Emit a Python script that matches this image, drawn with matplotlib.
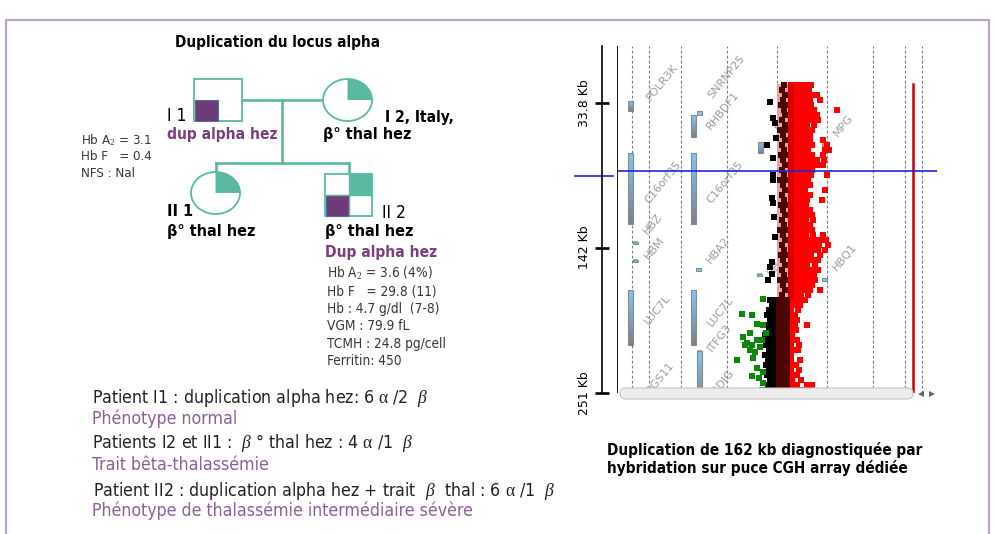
import numpy as np
import matplotlib
matplotlib.use("Agg")
import matplotlib.pyplot as plt
from matplotlib import font_manager as fm
from matplotlib.patches import Rectangle, Ellipse, Polygon, FancyBboxPatch

# ---------------------------------------------------------------- data
# CGH array profile, chr16p13.3 (position in kb, log2 ratio)
dup_start_kb, dup_end_kb = 19.0, 181.0          # 162 kb duplication call
cursor_kb = 84.5
kb_ticks = [33.8, 142, 251]
kb_tick_labels = ["33.8 Kb", "142 Kb", "251 Kb"]
grid_lr = [-2.9, -2.56, -1.92, -1.0, 0.0, 1.0, 1.92, 2.56, 2.9]
call_marker_lr = 2.72

# gained probes (red): rows of (kb, [log2 ratios])
gain_rows = [
    (20.0, [0.28, 0.38, 0.48, 0.58, 0.68]),
    (23.75, [0.28, 0.38, 0.48, 0.56, 0.64]),
    (27.5, [0.28, 0.38, 0.48, 0.58, 0.68, 0.80]),
    (31.25, [0.28, 0.38, 0.48, 0.58, 0.66, 0.86]),
    (35.0, [0.28, 0.38, 0.48, 0.58, 0.68]),
    (38.75, [0.28, 0.38, 0.48, 0.58, 0.68, 0.74, 1.20]),
    (42.5, [0.28, 0.38, 0.48, 0.58, 0.68, 0.80]),
    (46.25, [0.28, 0.38, 0.48, 0.60, 0.70, 0.82]),
    (50.0, [0.28, 0.38, 0.50, 0.60, 0.74]),
    (53.75, [0.28, 0.38, 0.48, 0.58, 0.70]),
    (57.5, [0.28, 0.38, 0.48, 0.56, 0.66]),
    (61.25, [0.28, 0.38, 0.48, 0.60, 0.66, 0.92]),
    (65.0, [0.28, 0.38, 0.50, 0.62, 0.70, 1.00]),
    (68.75, [0.28, 0.40, 0.52, 0.62, 0.96, 1.04]),
    (72.5, [0.28, 0.38, 0.48, 0.58, 0.70, 0.92]),
    (76.25, [0.28, 0.38, 0.48, 0.58, 0.68, 0.80, 0.94]),
    (80.0, [0.28, 0.38, 0.50, 0.60, 0.72, 0.84, 0.92]),
    (83.75, [0.28, 0.38, 0.48, 0.58, 0.70]),
    (87.5, [0.28, 0.38, 0.48, 0.58, 0.68, 1.00]),
    (91.25, [0.28, 0.38, 0.50, 0.62]),
    (95.0, [0.28, 0.38, 0.48, 0.56, 0.66]),
    (98.75, [0.28, 0.38, 0.50, 0.56, 0.96]),
    (102.5, [0.28, 0.38, 0.48, 0.58, 0.66]),
    (106.25, [0.28, 0.38, 0.48, 0.60, 0.90]),
    (110.0, [0.28, 0.38, 0.48, 0.58]),
    (113.75, [0.28, 0.38, 0.48, 0.58, 0.66]),
    (117.5, [0.28, 0.38, 0.50, 0.60, 0.70]),
    (121.25, [0.28, 0.38, 0.48, 0.58, 0.72]),
    (125.0, [0.28, 0.38, 0.48, 0.60, 0.66]),
    (128.75, [0.28, 0.40, 0.52, 0.62, 0.70]),
    (132.5, [0.28, 0.38, 0.48, 0.58, 0.72, 0.92]),
    (136.25, [0.28, 0.38, 0.50, 0.62, 0.74, 0.86, 0.98]),
    (140.0, [0.28, 0.38, 0.48, 0.60, 0.72, 0.84, 1.02]),
    (143.75, [0.28, 0.38, 0.48, 0.58, 0.70, 0.82, 0.96]),
    (147.5, [0.28, 0.38, 0.48, 0.58, 0.68, 0.86]),
    (151.25, [0.28, 0.38, 0.50, 0.62, 0.72, 0.82]),
    (155.0, [0.28, 0.38, 0.48, 0.60, 0.76]),
    (158.75, [0.28, 0.38, 0.48, 0.58, 0.70, 0.82]),
    (162.5, [0.28, 0.38, 0.50, 0.62, 0.74]),
    (166.25, [0.28, 0.38, 0.48, 0.58, 0.68, 0.76]),
    (170.0, [0.28, 0.38, 0.48, 0.60, 0.70]),
    (173.75, [0.28, 0.38, 0.50, 0.60, 0.66, 0.86]),
    (177.5, [0.28, 0.38, 0.48, 0.62]),
    (181.25, [0.28, 0.38, 0.48, 0.56]),
    (185.0, [0.28, 0.38, 0.46]),
    (188.75, [0.28, 0.42]),
    (192.5, [0.28, 0.36]),
    (196.25, [0.28, 0.40]),
    (200.0, [0.28, 0.36, 0.60]),
    (203.75, [0.28, 0.38]),
    (207.5, [0.30]),
    (211.25, [0.28, 0.40]),
    (215.0, [0.28, 0.44]),
    (218.75, [0.30, 0.42]),
    (222.5, [0.28]),
    (226.25, [0.28, 0.46]),
    (230.0, [0.30, 0.38]),
    (233.75, [0.28, 0.44]),
    (237.5, [0.28, 0.40]),
    (241.25, [0.30, 0.48]),
    (245.0, [0.28, 0.40, 0.60, 0.70]),
    (248.75, [0.28, 0.38, 0.52]),
]

# reference-channel probes (dark red)
ref_rows = [
    (20.0, [0.14]), (23.75, [0.10]), (27.5, [0.16]), (31.25, [0.12]),
    (35.0, [0.08, 0.16]), (38.75, [0.14]), (42.5, [0.16]), (46.25, [0.10]),
    (50.0, [0.16]), (53.75, [0.06, 0.16]), (57.5, [0.12]), (61.25, [0.16]),
    (65.0, [0.10]), (68.75, [0.14]), (72.5, [0.08, 0.16]), (76.25, [0.12]),
    (80.0, [0.16]), (83.75, [0.10]), (87.5, [0.14]), (91.25, [0.06, 0.16]),
    (95.0, [0.12]), (98.75, [0.16]), (102.5, [0.10]), (106.25, [0.14]),
    (110.0, [0.08, 0.16]), (113.75, [0.12]), (117.5, [0.16]), (121.25, [0.10]),
    (125.0, [0.14]), (128.75, [0.06, 0.16]), (132.5, [0.12]), (136.25, [0.16]),
    (140.0, [0.10]), (143.75, [0.14]), (147.5, [0.08, 0.16]), (151.25, [0.12]),
    (155.0, [0.16]), (158.75, [0.10]), (162.5, [0.14]), (166.25, [0.06, 0.16]),
    (170.0, [0.12]), (173.75, [0.16]), (177.5, [0.10]),
    (181.25, [0.04, 0.12, 0.19]), (185.0, [0.04, 0.12, 0.19]), (188.75, [0.04, 0.12, 0.19]),
    (192.5, [0.04, 0.12, 0.19]), (196.25, [0.04, 0.12, 0.19]), (200.0, [0.04, 0.12, 0.19]),
    (203.75, [0.04, 0.12, 0.19]), (207.5, [0.04, 0.12, 0.19]), (211.25, [0.04, 0.12, 0.19]),
    (215.0, [0.04, 0.12, 0.19]), (218.75, [0.04, 0.12, 0.19]), (222.5, [0.04, 0.12, 0.19]),
    (226.25, [0.04, 0.12, 0.19]), (230.0, [0.04, 0.12, 0.19]), (233.75, [0.04, 0.12, 0.19]),
    (237.5, [0.04, 0.12, 0.19]), (241.25, [0.04, 0.12, 0.19]), (245.0, [0.04, 0.12, 0.19]),
    (248.75, [0.04, 0.12, 0.19]),
]

# normal probes (black)
normal_kb = [32.75, 44.75, 48.5, 59.75, 65.0, 74.75, 87.5, 91.25, 104.75, 108.5,
             119.0, 134.0, 152.75, 156.5, 161.75, 166.25]
normal_lr = [-0.14, -0.08, -0.04, -0.02, -0.20, -0.08, -0.08, -0.08, -0.10, -0.08,
             -0.06, -0.04, -0.10, -0.14, -0.10, -0.18]
normal_rows = [
    (181.25, [-0.14, -0.06, 0.0]), (185.0, [-0.10, -0.02]), (188.75, [-0.16, -0.06]),
    (192.5, [-0.20, -0.10, -0.02]), (196.25, [-0.14, -0.04]), (200.0, [-0.22, -0.12, -0.04]),
    (203.75, [-0.16, -0.06]), (207.5, [-0.24, -0.14, -0.04]), (211.25, [-0.18, -0.08]),
    (215.0, [-0.22, -0.12, -0.02]), (218.75, [-0.16, -0.06]), (222.5, [-0.24, -0.12, -0.04]),
    (226.25, [-0.18, -0.08]), (230.0, [-0.22, -0.12, -0.02]), (233.75, [-0.16, -0.06]),
    (237.5, [-0.20, -0.10, -0.02]), (241.25, [-0.14, -0.04]), (245.0, [-0.18, -0.08]),
    (248.75, [-0.12, -0.04]),
]

# lost probes (green)
loss_kb = [180.5, 191.75, 192.5, 199.25, 200.0, 206.0, 206.0, 209.0, 211.25, 211.25,
           213.5, 215.0, 215.0, 216.5, 218.75, 220.25, 224.75, 226.25, 232.25, 235.25,
           238.25, 239.75, 243.5, 248.75]
loss_lr = [-0.28, -0.70, -0.50, -0.40, -0.28, -0.22, -0.54, -0.68, -0.40, -0.30,
           -0.60, -0.50, -0.64, -0.34, -0.54, -0.44, -0.48, -0.80, -0.40, -0.28,
           -0.50, -0.36, -0.28, -0.30]

# gene tracks: bar position (log2-ratio column), start and end (kb)
gene_bar_lr = [-2.93, -2.93, -2.93, -2.84, -2.84,
               -1.67, -1.67, -1.67, -1.56, -1.56, -1.58,
               -0.33, -0.36, 0.94, 0.94]
gene_bar_start = [32.0, 71.0, 173.75, 137.4, 150.9,
                  42.5, 71.0, 173.75, 39.5, 219.5, 157.6,
                  62.75, 161.4, 62.75, 165.1]
gene_bar_end = [39.5, 124.25, 215.0, 139.6, 153.1,
                59.0, 124.25, 215.0, 42.5, 262.0, 159.8,
                71.0, 163.6, 71.0, 167.3]
gene_bar_width = [0.10] * 15

gene_names = ["POLR3K", "SNRNP25", "RHBDF1", "C16orf35", "C16orf35", "HBZ", "HBM",
              "HBA2", "LUC7L", "LUC7L", "ITFG3", "RGS11", "ARHGDIG",
              "MPG", "MPG", "HBQ1", "HBQ1"]
gene_name_lr = [-2.30, -1.02, -1.08, -2.28, -1.04, -2.48, -2.44,
                -1.18, -2.38, -1.12, -1.14, -2.34, -1.22,
                0.16, 1.32, 0.06, 1.36]
gene_name_kb = [17.75, 14.0, 38.75, 92.75, 92.75, 124.25, 142.25,
                143.75, 188.75, 190.25, 209.75, 239.75, 250.25,
                46.25, 50.0, 152.75, 149.0]

# pedigree annotations
i1_values = ["Hb A$_2$ = 3.1", "Hb F   = 0.4", "NFS : Nal"]
ii2_values = ["Hb A$_2$ = 3.6 (4%)", "Hb F   = 29.8 (11)", "Hb : 4.7 g/dl  (7-8)",
              "VGM : 79.9 fL", "TCMH : 24.8 pg/cell", "Ferritin: 450"]
summary_lines = [
    r"Patient I1 : duplication alpha hez: 6 $\mathrm{\alpha}$ /2  $\beta$",
    "Phénotype normal",
    r"Patients I2 et II1 :  $\beta$ ° thal hez : 4 $\mathrm{\alpha}$ /1  $\beta$",
    "Trait bêta-thalassémie",
    r"Patient II2 : duplication alpha hez + trait  $\beta$  thal : 6 $\mathrm{\alpha}$ /1  $\beta$",
    "Phénotype de thalassémie intermédiaire sévère",
]
caption_lines = ["Duplication de 162 kb diagnostiquée par",
                 "hybridation sur puce CGH array dédiée"]

# ---------------------------------------------------------------- fonts
def narrow_font():
    entries = fm.fontManager.ttflist
    names = {f.name for f in entries}
    if "Liberation Sans Narrow" in names:
        return {"family": "Liberation Sans Narrow"}
    for f in entries:
        if f.name == "DejaVu Sans" and str(f.stretch) not in ("normal", "400"):
            return {"family": "DejaVu Sans", "stretch": "condensed"}
    return {"family": "Liberation Sans"}

NARROW = narrow_font()
plt.rcParams["mathtext.fontset"] = "custom"
plt.rcParams["mathtext.rm"] = "Liberation Serif"
plt.rcParams["mathtext.it"] = "Liberation Serif:italic"
plt.rcParams["mathtext.bf"] = "Liberation Serif:bold"

TEAL = "#5cb9a1"
PURPLE_FILL = "#6d3b77"
PURPLE_TXT = "#7b3f80"
PURPLE_LIGHT = "#8d5e9b"
FRAME = "#b9a6c9"

W, H = 994, 534
fig = plt.figure(figsize=(W / 100, H / 100), dpi=100)
fig.patch.set_facecolor("white")

# ---------------------------------------------------------------- background / pedigree (pixel coords)
bg = fig.add_axes([0, 0, 1, 1])
bg.set_xlim(0, W)
bg.set_ylim(H, 0)
bg.axis("off")

bg.plot([6, 6, 989, 989], [H, 20, 20, H], color=FRAME, lw=1.6, solid_capstyle="butt")


def txt(x, y, s, size=12, weight="normal", color="black", **kw):
    bg.text(x, y, s, fontsize=size, fontweight=weight, color=color,
            va="baseline", ha="left", **NARROW, **kw)


def quadrant(cx, cy, w, h, a0, a1):
    t = np.radians(np.linspace(a0, a1, 40))
    pts = [(cx, cy)] + list(zip(cx + w / 2 * np.cos(t), cy + h / 2 * np.sin(t)))
    return Polygon(pts, closed=True, fc=TEAL, ec="none", zorder=3)


lw_line = 1.9
# mating / descent lines
bg.plot([242, 323], [100, 100], color=TEAL, lw=lw_line, zorder=1)
bg.plot([282, 282], [100, 163], color=TEAL, lw=lw_line, zorder=1)
bg.plot([216, 348.5], [163, 163], color=TEAL, lw=lw_line, zorder=1)
bg.plot([216, 216], [163, 172], color=TEAL, lw=lw_line, zorder=1)
bg.plot([348.5, 348.5], [163, 174], color=TEAL, lw=lw_line, zorder=1)

# I1 (male)
bg.add_patch(Rectangle((194, 79), 48, 42, fc="white", ec=TEAL, lw=1.3, zorder=2))
bg.add_patch(Rectangle((194.5, 100), 23.5, 20.5, fc=PURPLE_FILL, ec="#4f6f9f", lw=0.8, zorder=3))
# I2 (female)
bg.add_patch(Ellipse((347.5, 100), 49, 42, fc="white", ec=TEAL, lw=1.3, zorder=2))
bg.add_patch(quadrant(347.5, 100, 49, 42, -90, 0))
# II1 (female)
bg.add_patch(Ellipse((215.5, 193), 49, 42, fc="white", ec=TEAL, lw=1.3, zorder=2))
bg.add_patch(quadrant(215.5, 193, 49, 42, -90, 0))
# II2 (male)
bg.add_patch(Rectangle((325, 174), 47, 42, fc="white", ec=TEAL, lw=1.3, zorder=2))
bg.add_patch(Rectangle((348.5, 174), 23.5, 21, fc=TEAL, ec="none", zorder=3))
bg.add_patch(Rectangle((325.5, 195), 23, 20.5, fc=PURPLE_FILL, ec="#4f6f9f", lw=0.8, zorder=3))
bg.plot([348.5, 348.5], [174, 216], color=TEAL, lw=1.0, zorder=3)
bg.plot([325, 372], [195, 195], color=TEAL, lw=1.0, zorder=3)

# pedigree labels
txt(175, 47, "Duplication du locus alpha", size=11, weight="bold")
txt(167, 121, "I 1", size=12.5)
txt(167, 139, "dup alpha hez", size=11.2, weight="bold", color=PURPLE_TXT)
txt(385, 122, "I 2, Italy,", size=11.2, weight="bold")
txt(323, 139, "β° thal hez", size=11.6, weight="bold")
txt(167, 216, "II 1", size=11.6, weight="bold")
txt(167, 236, "β° thal hez", size=11.6, weight="bold")
txt(382, 218, "II 2", size=12.5)
txt(325, 236, "β° thal hez", size=11.6, weight="bold")
txt(325, 257, "Dup alpha hez", size=11.2, weight="bold", color=PURPLE_TXT)

for i, s in enumerate(i1_values):
    txt(81, 144 + 16.5 * i, s, size=9.5, color="#383838")
for i, s in enumerate(ii2_values):
    txt(327, 278 + 17.4 * i, s, size=9.8, color="#383838")

summary_y = [403, 424, 448, 470, 496, 516]
summary_x = [92, 92, 92, 92, 93, 92]
for s, x, y, k in zip(summary_lines, summary_x, summary_y, range(6)):
    txt(x, y, s, size=12.7, color="#222222" if k % 2 == 0 else PURPLE_LIGHT)

for i, s in enumerate(caption_lines):
    txt(607, 455 + 18 * i, s, size=11, weight="bold")

# cursor stub left of the profile
bg.plot([575, 613], [176, 176], color="#2222dd", lw=1.2)

# ---------------------------------------------------------------- CGH profile
ax_l, ax_r, ax_t, ax_b = 617, 937, 46, 393
ax = fig.add_axes([ax_l / W, (H - ax_b) / H, (ax_r - ax_l) / W, (ax_b - ax_t) / H])
ax.patch.set_alpha(0)

for g in grid_lr:
    ax.axvline(g, color="#7a7a7a", lw=0.8, ls=(0, (2.5, 2)), zorder=1)
ax.axvline(-3.2, color="black", lw=1.3, zorder=6)

# gene bars with blue-to-grey shading
top_c = np.array([0.50, 0.78, 0.98])
bot_c = np.array([0.50, 0.50, 0.52])
shade = np.linspace(0, 1, 64)[:, None, None] * (bot_c - top_c) + top_c
for x, s, e, w in zip(gene_bar_lr, gene_bar_start, gene_bar_end, gene_bar_width):
    tall = (e - s) > 4
    ax.imshow(shade if tall else np.tile(top_c, (2, 1, 1)),
              extent=(x - w / 2, x + w / 2, e, s), aspect="auto",
              origin="upper", zorder=2, interpolation="bilinear")
    ax.add_patch(Rectangle((x - w / 2, s), w, e - s, fill=False, ec="#8a8a8a",
                           lw=0.8, zorder=2.1))

for name, x, y in zip(gene_names, gene_name_lr, gene_name_kb):
    ax.text(x, y, name, rotation=51, rotation_mode="anchor", ha="center", va="center",
            fontsize=8, color="#9c9c9c", zorder=2, clip_on=True)

# called aberration
ax.fill_betweenx([dup_start_kb, dup_end_kb], 0.0, 0.22, color="#eba3a3", lw=0, zorder=3)

def expand(rows):
    ys = [kb for kb, r in rows for _ in r]
    xs = [v for _, r in rows for v in r]
    return xs, ys

ms = 4.8
gx, gy = expand(gain_rows)
ax.plot(gx, gy, "s", color="#ff0000", ms=ms, mew=0, zorder=4)
ax.fill_betweenx([dup_start_kb, dup_end_kb], 0.22, 0.34, color="#d60000", lw=0, zorder=4.5)
rx, ry = expand(ref_rows)
ax.plot(rx, ry, "s", color="#4a0505", ms=4.4, mew=0, zorder=5)
nx, ny = expand(normal_rows)
ax.plot(normal_lr + nx, normal_kb + ny, "s", color="black", ms=ms, mew=0, zorder=4)
ax.plot(loss_lr, loss_kb, "s", color="#0b870b", ms=ms, mew=0, zorder=4)

ax.axhline(cursor_kb, color="#2222dd", lw=1.2, zorder=7)
ax.plot([call_marker_lr, call_marker_lr], [dup_start_kb, 251], color="#cc0000",
        lw=1.8, zorder=6)

ax.set_xlim(-3.2, 3.2)
ax.set_ylim(251, -9.25)
ax.set_xticks([])
for side in ("top", "right", "bottom"):
    ax.spines[side].set_visible(False)
ax.spines["left"].set_position(("outward", 11))
ax.spines["left"].set_linewidth(1.2)
ax.set_yticks(kb_ticks)
ax.set_yticklabels(kb_tick_labels, rotation=90, va="center", fontsize=9,
                   family="DejaVu Sans")
ax.tick_params(axis="y", direction="inout", length=10, width=1.9, pad=3)

# ---------------------------------------------------------------- scrollbar overlay
fg = fig.add_axes([0, 0, 1, 1])
fg.set_xlim(0, W)
fg.set_ylim(H, 0)
fg.axis("off")
fg.patch.set_alpha(0)
bar = FancyBboxPatch((620, 388), 293, 11, boxstyle="round,pad=0,rounding_size=5.5",
                     fc="#ededed", ec="#c4c4c4", lw=0.8, zorder=2)
fg.add_patch(bar)
grad = np.linspace(0.98, 0.84, 32)[:, None]
im = fg.imshow(grad, cmap="gray", vmin=0, vmax=1, extent=(620, 913, 399, 388),
               aspect="auto", origin="upper", zorder=1)
im.set_clip_path(bar)
fg.plot(920.5, 394, marker="<", color="#666666", ms=4.2, mew=0)
fg.plot(931.5, 394, marker=">", color="#666666", ms=4.2, mew=0)
fg.set_xlim(0, W)
fg.set_ylim(H, 0)

fig.savefig("out.png", dpi=100, facecolor="white")
